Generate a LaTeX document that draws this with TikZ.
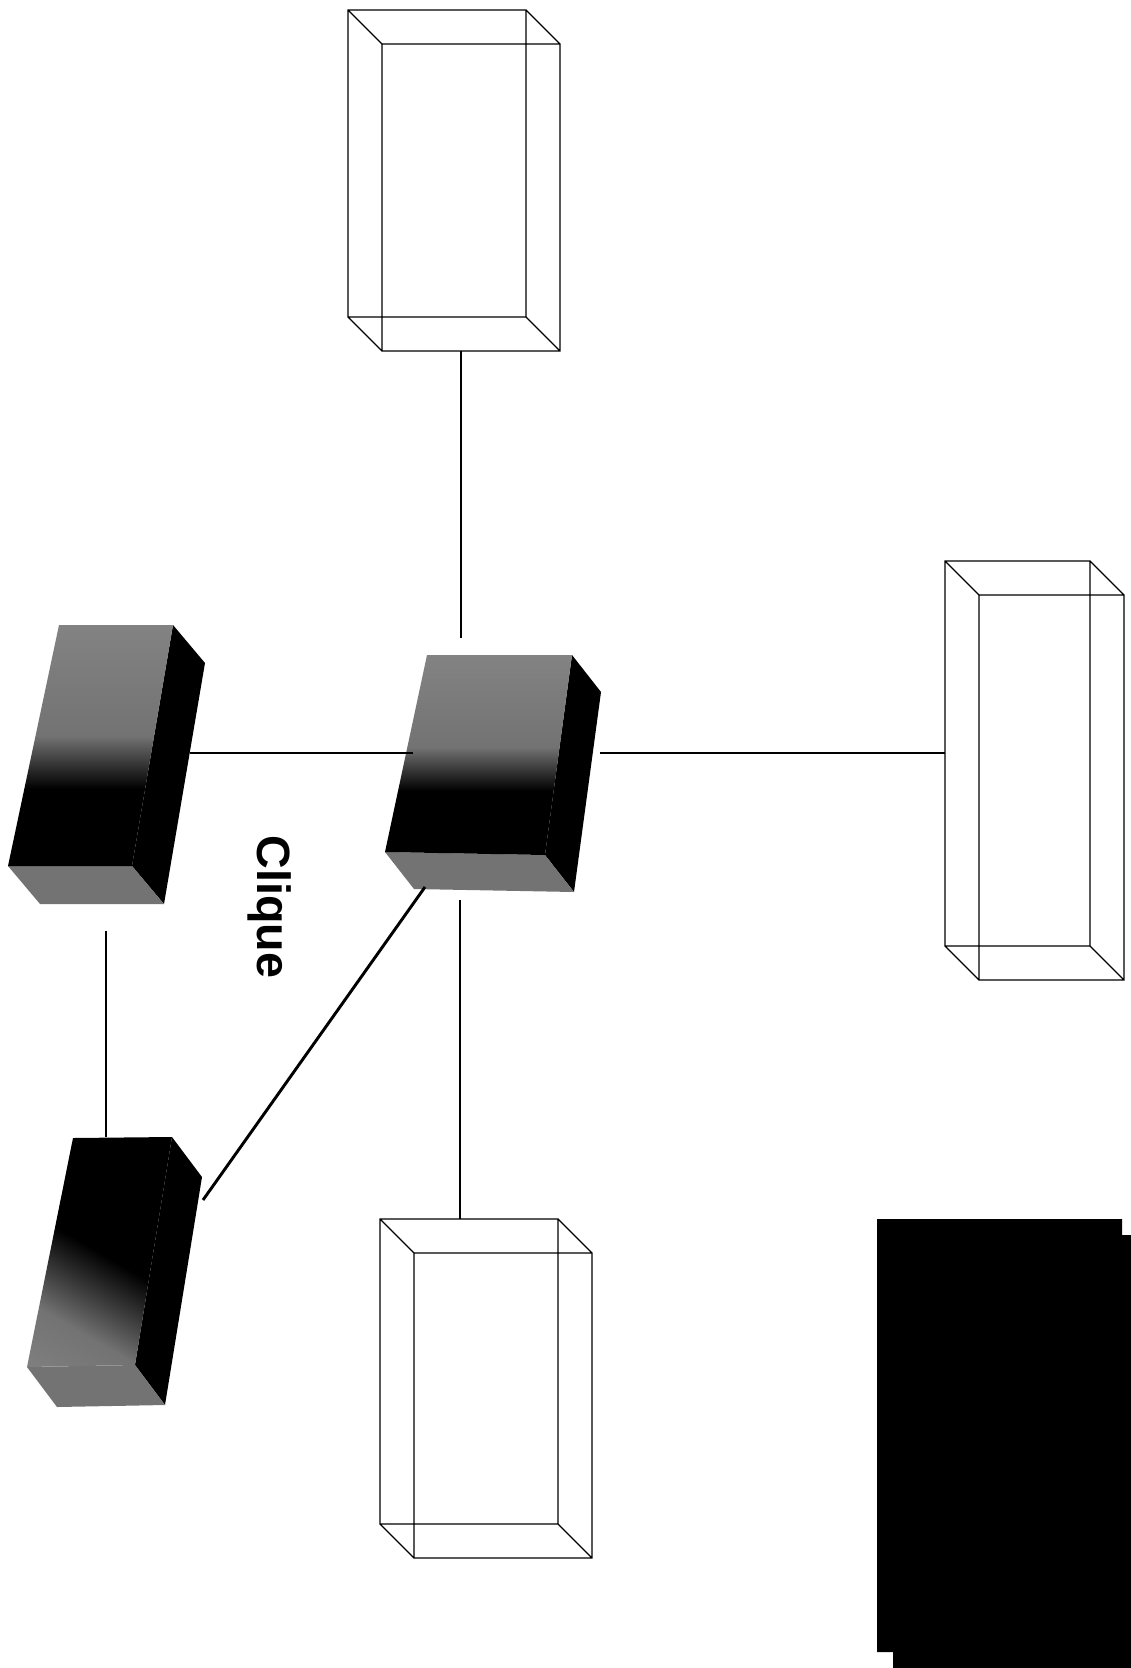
\documentclass[tikz,border=0pt]{standalone}
\usepackage{fontspec}
\setmainfont{Liberation Sans}
\usetikzlibrary{calc}

\pgfdeclareverticalshading{speckle}{100bp}{color(0bp)=(black); color(41bp)=(black); color(52bp)=(black!55); color(100bp)=(black!42)}
\pgfdeclareverticalshading{speckledark}{100bp}{color(0bp)=(black!45); color(30bp)=(black!55); color(50bp)=(black); color(100bp)=(black)}

\tikzset{
  wire/.style={line width=0.9pt},
  link/.style={line width=2.2pt},
  sideface/.style={fill=black},
  baseface/.style={fill=black!55},
}

% open box: name, x, y of back corner, width, height
\newcommand{\wirebox}[5]{%
  \draw[wire] (#2,#3) rectangle ++(#4,#5)
    (#2+34,#3+34) rectangle ++(#4,#5)
    (#2,#3) -- ++(34,34) (#2+#4,#3) -- ++(34,34)
    (#2,#3+#5) -- ++(34,34) (#2+#4,#3+#5) -- ++(34,34);
}
% solid box: name, front corners tl tr br bl, depth, front shading
\newcommand{\solidbox}[7]{%
  \coordinate (#1-tl) at #2;
  \coordinate (#1-tr) at #3;
  \coordinate (#1-br) at #4;
  \coordinate (#1-bl) at #5;
  \fill[sideface] (#1-tr) -- ($(#1-tr)+#6$) -- ($(#1-br)+#6$) -- (#1-br) -- cycle;
  \fill[baseface] (#1-bl) -- (#1-br) -- ($(#1-br)+#6$) -- ($(#1-bl)+#6$) -- cycle;
  \shade[#7] (#1-tl) -- (#1-tr) -- (#1-br) -- (#1-bl) -- cycle;
}

\begin{document}
\begin{tikzpicture}[x=0.75pt,y=-0.75pt]
  \useasboundingbox (0,0) rectangle (1131,1668);

  % open boxes
  \wirebox{upper}{348}{10}{178}{307}
  \wirebox{right}{945}{561}{145}{385}
  \wirebox{lower}{380}{1219}{178}{305}

  % solid boxes
  \solidbox{hub}{(427,655)}{(572,655)}{(545,855)}{(385,852)}{(29,37)}{shading=speckle}
  \solidbox{peerA}{(59,625)}{(173,625)}{(132,866)}{(8,866)}{(32,38)}{shading=speckle}
  \solidbox{peerB}{(73,1138)}{(172,1137)}{(135,1365)}{(27,1367)}{(30,40)}{shading=speckledark,shading angle=-30}

  % ends of the links
  \coordinate (upper-s) at (461,351);
  \coordinate (hub-n) at (461,638);
  \coordinate (hub-w) at (413,753);
  \coordinate (hub-e) at (600,753);
  \coordinate (hub-s) at (460,900);
  \coordinate (hub-sw) at (425,887);
  \coordinate (right-w) at (945,753);
  \coordinate (lower-n) at (460,1219);
  \coordinate (peerA-e) at (190,753);
  \coordinate (peerA-s) at (106,931);
  \coordinate (peerB-n) at (106,1137);
  \coordinate (peerB-e) at (203,1200);

  \draw[link] (upper-s) -- (hub-n);
  \draw[link] (peerA-e) -- (hub-w);
  \draw[link] (hub-e) -- (right-w);
  \draw[link] (hub-s) -- (lower-n);
  \draw[link] (peerA-s) -- (peerB-n);
  \draw[link] (hub-sw) -- (peerB-e);

  \node[rotate=-90,font=\bfseries\fontsize{35}{40}\selectfont] (clique) at (270,907) {Clique};

  % dark block
  \fill (877,1219) -- (1122,1219) -- (1122,1235) -- (1131,1235) -- (1131,1668)
    -- (893,1668) -- (893,1652) -- (877,1652) -- cycle;
\end{tikzpicture}
\end{document}
